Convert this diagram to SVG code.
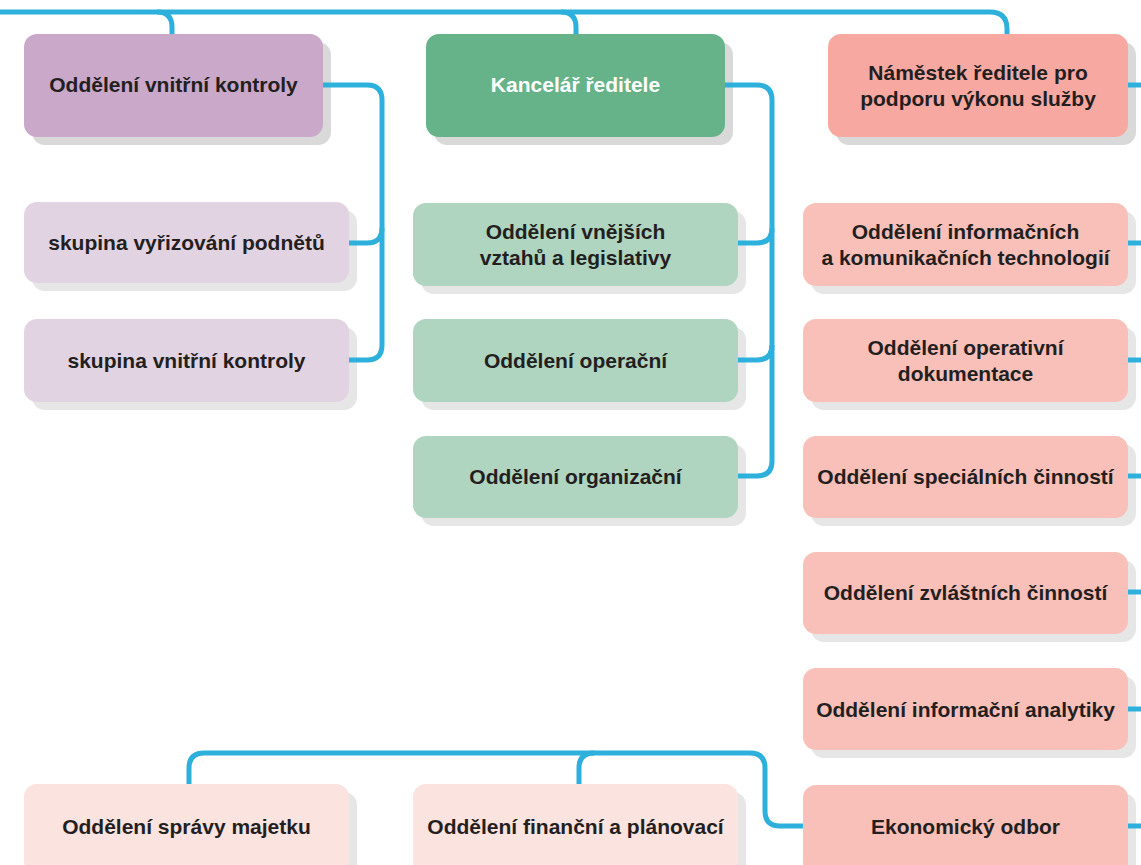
<svg xmlns="http://www.w3.org/2000/svg" width="1141" height="865" viewBox="0 0 1141 865">
<style>
.sh{fill:#d9d9d9}
.shl{fill:#e6e6e6}
.t{font-family:"Liberation Sans",Arial,sans-serif;font-weight:bold;font-size:21px;fill:#231f20;text-anchor:middle}
.w{fill:#ffffff}
.c{fill:none;stroke:#2eb0dc;stroke-width:5;stroke-linecap:butt;stroke-linejoin:round}
.p1{fill:#c9a8c9}.p2{fill:#e2d3e2}
.g1{fill:#66b38a}.g2{fill:#afd4c0}
.r1{fill:#f7a8a0}.r2{fill:#f8c0b8}.r3{fill:#fbe3df}
</style>
<rect width="1141" height="865" fill="#ffffff"/>
<g id="shadows">
<rect class="sh" x="32" y="42" width="299" height="103" rx="13"/>
<rect class="sh" x="434" y="42" width="299" height="103" rx="13"/>
<rect class="sh" x="836" y="42" width="300" height="103" rx="13"/>
<rect class="shl" x="32" y="210" width="325" height="81" rx="13"/>
<rect class="shl" x="32" y="327" width="325" height="83" rx="13"/>
<rect class="shl" x="421" y="211" width="325" height="83" rx="13"/>
<rect class="shl" x="421" y="327" width="325" height="83" rx="13"/>
<rect class="shl" x="421" y="444" width="325" height="82" rx="13"/>
<rect class="shl" x="811" y="211" width="325" height="83" rx="13"/>
<rect class="shl" x="811" y="327" width="325" height="83" rx="13"/>
<rect class="shl" x="811" y="444" width="325" height="82" rx="13"/>
<rect class="shl" x="811" y="560" width="325" height="82" rx="13"/>
<rect class="shl" x="811" y="676" width="325" height="82" rx="13"/>
<rect class="shl" x="811" y="793" width="325" height="90" rx="13"/>
<rect class="shl" x="32" y="792" width="325" height="90" rx="13"/>
<rect class="shl" x="421" y="792" width="325" height="90" rx="13"/>
</g>
<g id="connectors">
<path class="c" d="M0,12 H990 Q1007,12 1007,29 V34"/>
<path class="c" d="M157,12 Q172,12 172,27 V34"/>
<path class="c" d="M561,12 Q576,12 576,27 V34"/>
<path class="c" d="M323,85 H367 Q382,85 382,100 V345 Q382,360 367,360 H349"/>
<path class="c" d="M349,243 H367 Q382,243 382,228"/>
<path class="c" d="M725,85 H757 Q772,85 772,100 V461 Q772,476 757,476 H738"/>
<path class="c" d="M738,243 H757 Q772,243 772,228"/>
<path class="c" d="M738,360 H757 Q772,360 772,345"/>
<path class="c" d="M189,784 V768 Q189,753 204,753 H750 Q765,753 765,768 V811 Q765,826 780,826 H803"/>
<path class="c" d="M579,784 V768 Q579,753 594,753"/>
<path class="c" d="M1128,85 H1141"/>
<path class="c" d="M1128,243 H1141"/>
<path class="c" d="M1128,360 H1141"/>
<path class="c" d="M1128,476 H1141"/>
<path class="c" d="M1128,592 H1141"/>
<path class="c" d="M1128,709 H1141"/>
<path class="c" d="M1128,826 H1141"/>
</g>
<g id="n-vnitrni-kontrola"><rect class="p1" x="24" y="34" width="299" height="103" rx="13"/><text class="t" x="173.5" y="92">Oddělení vnitřní kontroly</text></g>
<g id="n-kancelar"><rect class="g1" x="426" y="34" width="299" height="103" rx="13"/><text class="t w" x="575.5" y="92">Kancelář ředitele</text></g>
<g id="n-namestek"><rect class="r1" x="828" y="34" width="300" height="103" rx="13"/><text class="t" x="978" y="80">Náměstek ředitele pro</text><text class="t" x="978" y="106">podporu výkonu služby</text></g>
<g id="n-skupina-podnety"><rect class="p2" x="24" y="202" width="325" height="81" rx="13"/><text class="t" x="186.5" y="250">skupina vyřizování podnětů</text></g>
<g id="n-skupina-kontrola"><rect class="p2" x="24" y="319" width="325" height="83" rx="13"/><text class="t" x="186.5" y="368">skupina vnitřní kontroly</text></g>
<g id="n-vnejsi"><rect class="g2" x="413" y="203" width="325" height="83" rx="13"/><text class="t" x="575.5" y="239">Oddělení vnějších</text><text class="t" x="575.5" y="265">vztahů a legislativy</text></g>
<g id="n-operacni"><rect class="g2" x="413" y="319" width="325" height="83" rx="13"/><text class="t" x="575.5" y="368">Oddělení operační</text></g>
<g id="n-organizacni"><rect class="g2" x="413" y="436" width="325" height="82" rx="13"/><text class="t" x="575.5" y="484">Oddělení organizační</text></g>
<g id="n-ikt"><rect class="r2" x="803" y="203" width="325" height="83" rx="13"/><text class="t" x="965.5" y="239">Oddělení informačních</text><text class="t" x="965.5" y="265">a komunikačních technologií</text></g>
<g id="n-operativni"><rect class="r2" x="803" y="319" width="325" height="83" rx="13"/><text class="t" x="965.5" y="355">Oddělení operativní</text><text class="t" x="965.5" y="381">dokumentace</text></g>
<g id="n-specialni"><rect class="r2" x="803" y="436" width="325" height="82" rx="13"/><text class="t" x="965.5" y="484">Oddělení speciálních činností</text></g>
<g id="n-zvlastni"><rect class="r2" x="803" y="552" width="325" height="82" rx="13"/><text class="t" x="965.5" y="600">Oddělení zvláštních činností</text></g>
<g id="n-analytika"><rect class="r2" x="803" y="668" width="325" height="82" rx="13"/><text class="t" x="965.5" y="717">Oddělení informační analytiky</text></g>
<g id="n-ekonomicky"><rect class="r2" x="803" y="785" width="325" height="90" rx="13"/><text class="t" x="965.5" y="834">Ekonomický odbor</text></g>
<g id="n-sprava"><rect class="r3" x="24" y="784" width="325" height="90" rx="13"/><text class="t" x="186.5" y="834">Oddělení správy majetku</text></g>
<g id="n-financni"><rect class="r3" x="413" y="784" width="325" height="90" rx="13"/><text class="t" x="575.5" y="834">Oddělení finanční a plánovací</text></g>
</svg>
